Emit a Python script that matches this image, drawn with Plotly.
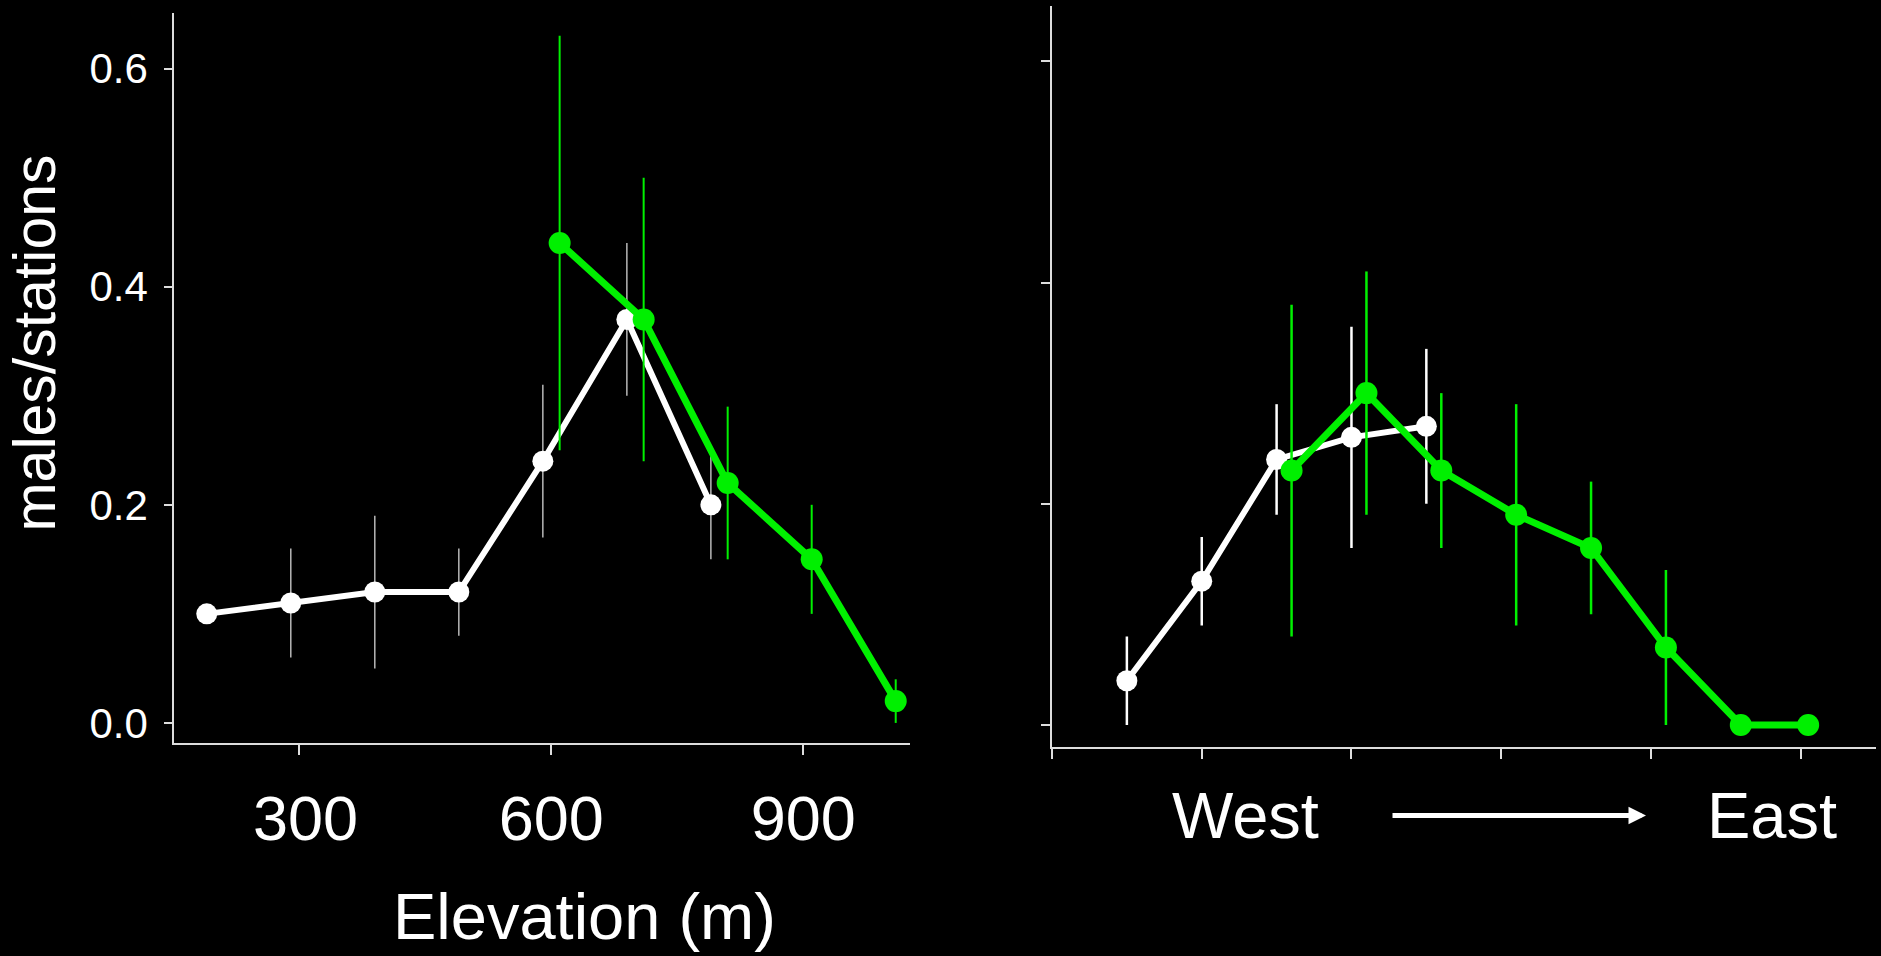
import plotly.graph_objects as go

W, H = 1881, 956

# ---- Data: left panel (elevation) ----
elev_white_x = [190, 290, 390, 490, 590, 690, 790]
elev_white_y = [0.10, 0.11, 0.12, 0.12, 0.24, 0.37, 0.20]
elev_white_err = [0.0, 0.05, 0.07, 0.04, 0.07, 0.07, 0.05]

elev_green_x = [610, 710, 810, 910, 1010]
elev_green_y = [0.44, 0.37, 0.22, 0.15, 0.02]
elev_green_err = [0.19, 0.13, 0.07, 0.05, 0.02]

elev_ticks = [300, 600, 900]
elev_ticktext = ["\u2009300", "600", "900"]
y_ticks = [0.0, 0.2, 0.4, 0.6]
y_ticktext = ["0.0", "0.2", "0.4", "0.6"]

# ---- Data: right panel (west -> east) ----
we_white_x = [0.5, 1.0, 1.5, 2.0, 2.5]
we_white_y = [0.04, 0.13, 0.24, 0.26, 0.27]
we_white_err = [0.04, 0.04, 0.05, 0.10, 0.07]

we_green_x = [1.6, 2.1, 2.6, 3.1, 3.6, 4.1, 4.6, 5.05]
we_green_y = [0.23, 0.30, 0.23, 0.19, 0.16, 0.07, 0.0, 0.0]
we_green_err = [0.15, 0.11, 0.07, 0.10, 0.06, 0.07, 0.0, 0.0]

we_ticks = [0, 1, 2, 3, 4, 5]

WHITE = "#ffffff"
GREEN = "#00f000"
FONT = "Liberation Sans, Arial, sans-serif"


def px_x(p):
    return p / W


def px_y(p):
    return 1 - p / H


fig = go.Figure()

# Left panel
fig.add_trace(go.Scatter(
    x=elev_white_x, y=elev_white_y, mode="lines+markers",
    line=dict(color=WHITE, width=6),
    marker=dict(color=WHITE, size=21),
    error_y=dict(type="data", array=elev_white_err, color="#b8b8b8", thickness=1.5, width=0),
    xaxis="x", yaxis="y", cliponaxis=False, showlegend=False))
fig.add_trace(go.Scatter(
    x=elev_green_x, y=elev_green_y, mode="lines+markers",
    line=dict(color=GREEN, width=7),
    marker=dict(color=GREEN, size=22),
    error_y=dict(type="data", array=elev_green_err, color=GREEN, thickness=2, width=0),
    xaxis="x", yaxis="y", cliponaxis=False, showlegend=False))

# Right panel
fig.add_trace(go.Scatter(
    x=we_white_x, y=we_white_y, mode="lines+markers",
    line=dict(color=WHITE, width=6),
    marker=dict(color=WHITE, size=21),
    error_y=dict(type="data", array=we_white_err, color=WHITE, thickness=2.5, width=0),
    xaxis="x2", yaxis="y2", cliponaxis=False, showlegend=False))
fig.add_trace(go.Scatter(
    x=we_green_x, y=we_green_y, mode="lines+markers",
    line=dict(color=GREEN, width=7),
    marker=dict(color=GREEN, size=22),
    error_y=dict(type="data", array=we_green_err, color=GREEN, thickness=2.5, width=0),
    xaxis="x2", yaxis="y2", cliponaxis=False, showlegend=False))

axis_common = dict(
    showline=True, linecolor="#dddddd", linewidth=1.5,
    ticks="outside", tickcolor="#dddddd", tickwidth=1.5,
    showgrid=False, zeroline=False,
)

fig.update_layout(
    width=W, height=H,
    margin=dict(l=0, r=0, t=0, b=0),
    paper_bgcolor="black", plot_bgcolor="black",
    font=dict(family=FONT, color="white"),
    xaxis=dict(domain=[px_x(174), px_x(910)], range=[151, 1027],
               tickvals=elev_ticks, ticktext=elev_ticktext, ticklen=10, anchor="y",
               tickfont=dict(size=63, color="white"),
               ticklabelstandoff=10, **axis_common),
    yaxis=dict(domain=[px_y(746), px_y(13)], range=[-0.0183, 0.651],
               tickvals=y_ticks, ticktext=y_ticktext, ticklen=8, anchor="x",
               tickfont=dict(size=42, color="white"),
               ticklabelstandoff=8, **axis_common),
    xaxis2=dict(domain=[px_x(1052), px_x(1876)], range=[0, 5.503],
                tickvals=we_ticks, ticklen=10, showticklabels=False,
                anchor="y2", **axis_common),
    yaxis2=dict(domain=[px_y(750), px_y(6)], range=[-0.0198, 0.650],
                tickvals=y_ticks, ticklen=9, showticklabels=False,
                anchor="x2", **axis_common),
)

annotations = [
    dict(text="males/stations", x=px_x(35), y=px_y(345), xref="paper", yref="paper",
         textangle=-90, showarrow=False, xanchor="center", yanchor="middle",
         font=dict(size=59, color="white", family=FONT)),
    dict(text="Elevation (m)", x=px_x(584), y=px_y(920), xref="paper", yref="paper",
         showarrow=False, xanchor="center", yanchor="middle",
         font=dict(size=65, color="white", family=FONT)),
    dict(text="West", x=px_x(1245), y=px_y(819), xref="paper", yref="paper",
         showarrow=False, xanchor="center", yanchor="middle",
         font=dict(size=65, color="white", family=FONT)),
    dict(text="East", x=px_x(1772), y=px_y(819), xref="paper", yref="paper",
         showarrow=False, xanchor="center", yanchor="middle",
         font=dict(size=65, color="white", family=FONT)),
    dict(text="", x=px_x(1646), y=px_y(819), ax=-255, ay=0,
         xref="paper", yref="paper", axref="pixel", ayref="pixel",
         showarrow=True, arrowhead=2, arrowsize=0.7, arrowwidth=5,
         arrowcolor="white", standoff=0),
]
fig.update_layout(annotations=annotations)

fig.write_html("out.html")
